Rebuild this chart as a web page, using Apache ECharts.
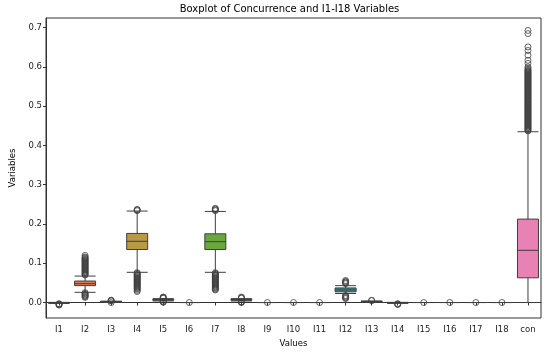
<!DOCTYPE html>
<html>
<head>
<meta charset="utf-8">
<script src="https://cdn.jsdelivr.net/npm/echarts@6/dist/echarts.min.js"></script>
<style>html,body{margin:0;padding:0;background:#fff}#c{width:550px;height:353px}</style>
</head>
<body>
<div id="c"></div>
<script>
const categories = ['I1','I2','I3','I4','I5','I6','I7','I8','I9','I10','I11','I12','I13','I14','I15','I16','I17','I18','con'];
// [lower whisker, Q1, median, Q3, upper whisker]
const boxStats = [
  [-0.0022, -0.0012, -0.0008, -0.0004, 0.0004],
  [0.026, 0.043, 0.048, 0.0547, 0.0674],
  [0.0005, 0.0015, 0.002, 0.0025, 0.0035],
  [0.077, 0.135, 0.156, 0.176, 0.233],
  [0.004, 0.006, 0.007, 0.008, 0.010],
  [0, 0, 0, 0, 0],
  [0.077, 0.135, 0.155, 0.175, 0.232],
  [0.004, 0.006, 0.007, 0.008, 0.010],
  [0, 0, 0, 0, 0],
  [0, 0, 0, 0, 0],
  [0, 0, 0, 0, 0],
  [0.023, 0.0272, 0.032, 0.0372, 0.043],
  [0.001, 0.002, 0.0025, 0.003, 0.004],
  [-0.002, -0.001, -0.0007, -0.0003, 0.0005],
  [0, 0, 0, 0, 0],
  [0, 0, 0, 0, 0],
  [0, 0, 0, 0, 0],
  [0, 0, 0, 0, 0],
  [0.0, 0.063, 0.133, 0.2125, 0.435]
];
const outliers = [
  [-0.003, -0.004, -0.0055, -0.0065],
  [0.07, 0.072, 0.074, 0.076, 0.078, 0.08, 0.082, 0.084, 0.086, 0.088, 0.09, 0.092, 0.094, 0.096, 0.098, 0.1, 0.102,
   0.104, 0.106, 0.108, 0.11, 0.112, 0.114, 0.116, 0.12,
   0.025, 0.023, 0.021, 0.019, 0.017, 0.015, 0.013],
  [0.0045, 0.005, 0.006, 0.0],
  [0.234, 0.236, 0.237,
   0.076, 0.074, 0.072, 0.07, 0.068, 0.066, 0.064, 0.062, 0.06, 0.058, 0.056, 0.054, 0.052, 0.05, 0.048, 0.046, 0.044,
   0.042, 0.04, 0.038, 0.036, 0.034, 0.031, 0.028],
  [0.011, 0.012, 0.013, 0.014, 0.003, 0.002, 0.0005],
  [0.0],
  [0.234, 0.236, 0.238, 0.24,
   0.076, 0.074, 0.072, 0.07, 0.068, 0.066, 0.064, 0.062, 0.06, 0.058, 0.056, 0.054, 0.052, 0.05, 0.048, 0.046, 0.044,
   0.042, 0.04, 0.038, 0.036, 0.034, 0.032],
  [0.011, 0.0125, 0.014, 0.002, 0.001, 0.0],
  [0.0],
  [0.0],
  [0.0],
  [0.048, 0.05, 0.052, 0.054, 0.056, 0.018, 0.016, 0.014, 0.012, 0.01],
  [0.005, 0.0055],
  [-0.003, -0.004, -0.005],
  [0.0],
  [0.0],
  [0.0],
  [0.0],
  [0.437, 0.439, 0.441, 0.443, 0.445, 0.447, 0.449, 0.451, 0.453, 0.455, 0.457, 0.459, 0.461, 0.463, 0.465, 0.467,
   0.469, 0.471, 0.473, 0.475, 0.477, 0.479, 0.481, 0.483, 0.485, 0.487, 0.489, 0.491, 0.493, 0.495, 0.497, 0.499,
   0.501, 0.503, 0.505, 0.507, 0.509, 0.511, 0.513, 0.515, 0.517, 0.519, 0.521, 0.523, 0.525, 0.527, 0.529, 0.531,
   0.533, 0.535, 0.537, 0.539, 0.541, 0.543, 0.545, 0.547, 0.549, 0.551, 0.553, 0.555, 0.557, 0.559, 0.561, 0.563,
   0.565, 0.567, 0.569, 0.571, 0.573, 0.575, 0.577, 0.579, 0.581, 0.583, 0.585, 0.587, 0.589, 0.591, 0.593, 0.596,
   0.6, 0.609, 0.617, 0.63, 0.642, 0.651, 0.685, 0.693]
];
const boxColors = ['#e0768a','#e07a52','#c98a3e','#b89a45','#a3a03b','#8aa63b','#6aa83e','#3ea85e','#3ea47f','#3ea092',
  '#3e9c9c','#3a8a8c','#3f95ab','#4a8fc0','#7a8ad6','#a07fd6','#c27ac8','#d67cbb','#e882b4'];
const yTicks = [0, 0.1, 0.2, 0.3, 0.4, 0.5, 0.6, 0.7];

const font = 'DejaVu Sans';
const chart = echarts.init(document.getElementById('c'), null, {renderer: 'canvas'});
const boxData = boxStats.map((s, i) => ({value: s, itemStyle: {color: boxColors[i]}}));
const scatterData = [];
outliers.forEach((arr, i) => arr.forEach(v => scatterData.push([i, v])));

chart.setOption({
  animation: false,
  backgroundColor: '#fff',
  graphic: [{
    type: 'text', x: 289.5, y: 9,
    style: {text: 'Boxplot of Concurrence and I1-I18 Variables', font: '10px "DejaVu Sans"', fill: '#000',
      textAlign: 'center', textVerticalAlign: 'middle'}
  }],
  grid: {left: 38, right: 9, top: 18, bottom: 35, show: true, borderColor: '#333', borderWidth: 1},
  xAxis: {
    type: 'category', data: categories, boundaryGap: true,
    name: 'Values', nameLocation: 'middle', nameGap: 19,
    nameTextStyle: {fontFamily: font, fontSize: 8.5, color: '#000'},
    axisLine: {show: true, lineStyle: {color: '#333', width: 1}},
    axisTick: {show: true, alignWithLabel: true, length: 3, lineStyle: {color: '#333'}},
    axisLabel: {fontFamily: font, fontSize: 8.5, color: '#222', margin: 7, interval: 0},
    splitLine: {show: false}
  },
  yAxis: {
    type: 'value', min: -0.0394, max: 0.7247,
    name: 'Variables', nameLocation: 'middle', nameGap: 29, nameRotate: 90,
    nameTextStyle: {fontFamily: font, fontSize: 8.5, color: '#000'},
    axisLine: {show: true, lineStyle: {color: '#333', width: 1}},
    axisTick: {show: true, length: 3, lineStyle: {color: '#333'}, customValues: yTicks},
    axisLabel: {fontFamily: font, fontSize: 8.5, color: '#222', margin: 4, customValues: yTicks,
      formatter: v => v.toFixed(1)},
    splitLine: {show: false}
  },
  series: [
    {
      type: 'boxplot', data: boxData, boxWidth: [21, 21],
      itemStyle: {borderColor: '#3f3f3f', borderWidth: 1},
      emphasis: {disabled: true}
    },
    {
      type: 'scatter', data: scatterData, symbol: 'circle', symbolSize: 6,
      itemStyle: {color: 'rgba(255,255,255,0)', borderColor: '#3f3f3f', borderWidth: 1},
      z: 3, emphasis: {disabled: true}
    }
  ]
});
</script>
</body>
</html>
